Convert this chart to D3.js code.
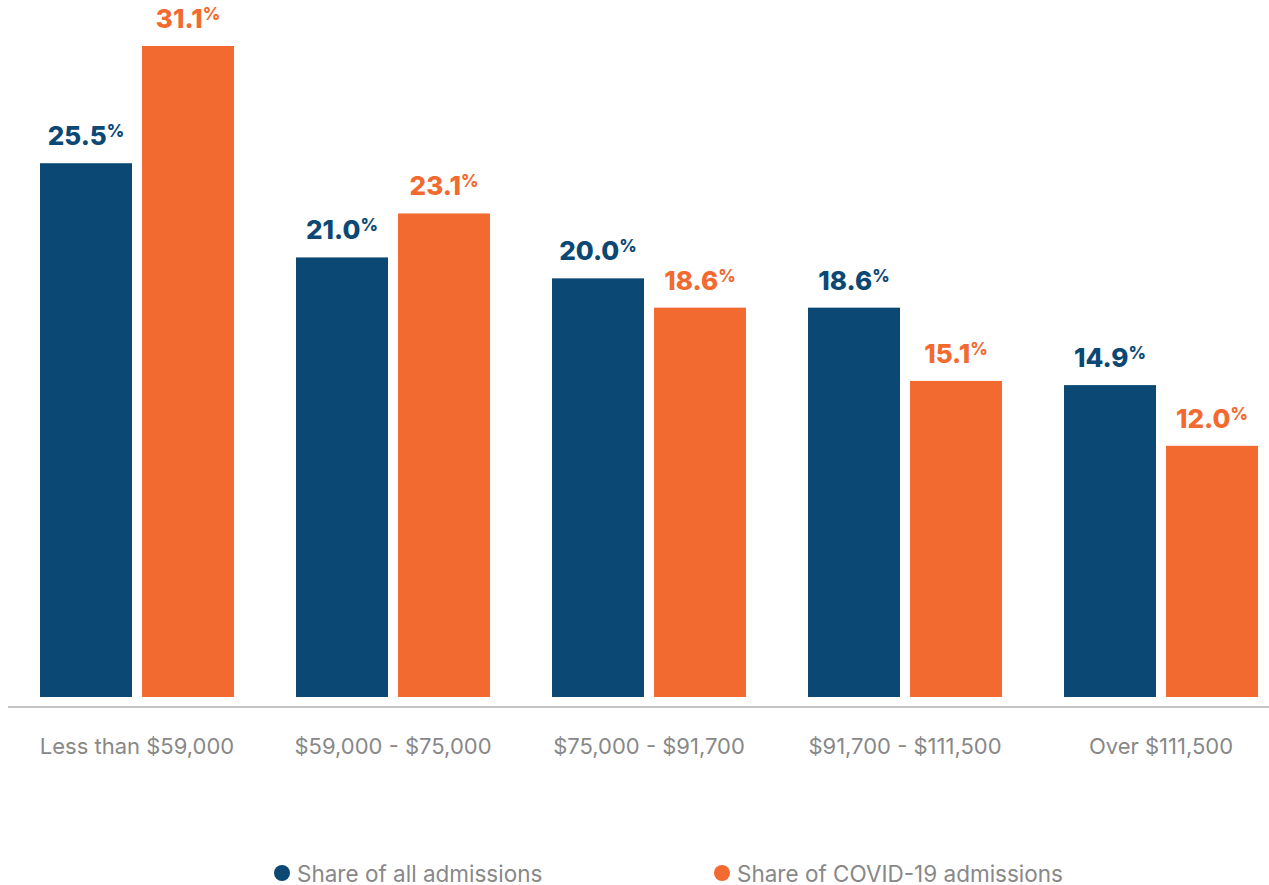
<!DOCTYPE html>
<html>
<head>
<meta charset="utf-8">
<script src="https://cdn.jsdelivr.net/npm/d3@7"></script>
<style>
  html, body { margin: 0; padding: 0; background: #fff; }
  svg { display: block; font-family: "Inter", "Roboto", sans-serif; }
</style>
</head>
<body>
<svg id="container"></svg>
<script>
const categories = ["Less than $59,000", "$59,000 - $75,000", "$75,000 - $91,700", "$91,700 - $111,500", "Over $111,500"]
const seriesNames = ["Share of all admissions", "Share of COVID-19 admissions"]
const allAdmissions = [25.5, 21.0, 20.0, 18.6, 14.9]
const covidAdmissions = [31.1, 23.1, 18.6, 15.1, 12.0]
const colors = ["#0b4873", "#f26a2f"]

const setup = () => {
	const width = 1269
	const height = 885
	const svg = d3.select("#container")
	svg.attr("width", width)
	   .attr("height", height)

	const rows = categories.map((c, i) => ({
		category: c,
		values: [allAdmissions[i], covidAdmissions[i]]
	}))

	const x0 = d3.scaleBand()
	             .domain(categories)
	             .range([40, 1258])
	             .paddingInner(62 / 256)
	             .paddingOuter(0)
	const x1 = d3.scaleBand()
	             .domain([0, 1])
	             .range([0, x0.bandwidth()])
	             .paddingInner(10 / 102)
	const y = d3.scaleLinear()
	            .domain([0, d3.max(covidAdmissions)])
	            .range([697, 46])

	const groups = svg.selectAll("g.group")
	                  .data(rows)
	                  .join("g")
	                  .attr("class", "group")
	                  .attr("transform", d => `translate(${x0(d.category)},0)`)

	groups.selectAll("rect")
	      .data(d => d.values)
	      .join("rect")
	      .attr("x", (d, i) => x1(i))
	      .attr("y", d => y(d))
	      .attr("width", x1.bandwidth())
	      .attr("height", d => y(0) - y(d))
	      .attr("fill", (d, i) => colors[i])

	// value labels, with a small raised percent sign
	const labels = groups.selectAll("text.value")
	      .data(d => d.values)
	      .join("text")
	      .attr("class", "value")
	      .attr("x", (d, i) => x1(i) + x1.bandwidth() / 2)
	      .attr("y", d => y(d) - 18)
	      .attr("text-anchor", "middle")
	      .attr("fill", (d, i) => colors[i])
	      .attr("font-weight", 800)
	      .attr("font-size", 26)
	labels.append("tspan").text(d => d.toFixed(1))
	labels.append("tspan")
	      .text("%")
	      .attr("font-size", 17)
	      .attr("font-weight", 800)
	      .attr("dy", -8)

	// axis line
	const xAxis = d3.axisBottom(x0).tickSize(0).tickPadding(31)
	const axisG = svg.append("g")
	   .attr("transform", "translate(0,707)")
	   .call(xAxis)
	axisG.select(".domain").remove()
	axisG.selectAll("text")
	     .attr("font-family", "Inter, Roboto, sans-serif")
	     .attr("font-size", 22)
	     .attr("fill", "#888")
	axisG.append("line")
	     .attr("x1", 8)
	     .attr("x2", width)
	     .attr("stroke", "#c4c4c4")
	     .attr("stroke-width", 2)

	// legend
	const legendX = [282, 722]
	const legend = svg.selectAll("g.legend")
	                  .data(seriesNames)
	                  .join("g")
	                  .attr("class", "legend")
	                  .attr("transform", (d, i) => `translate(${legendX[i]},873)`)
	legend.append("circle")
	      .attr("r", 8)
	      .attr("fill", (d, i) => colors[i])
	legend.append("text")
	      .attr("x", 15)
	      .attr("y", 8.5)
	      .attr("font-size", 22.5)
	      .attr("fill", "#888")
	      .text(d => d)
}

document.addEventListener("DOMContentLoaded", setup)
</script>
</body>
</html>
